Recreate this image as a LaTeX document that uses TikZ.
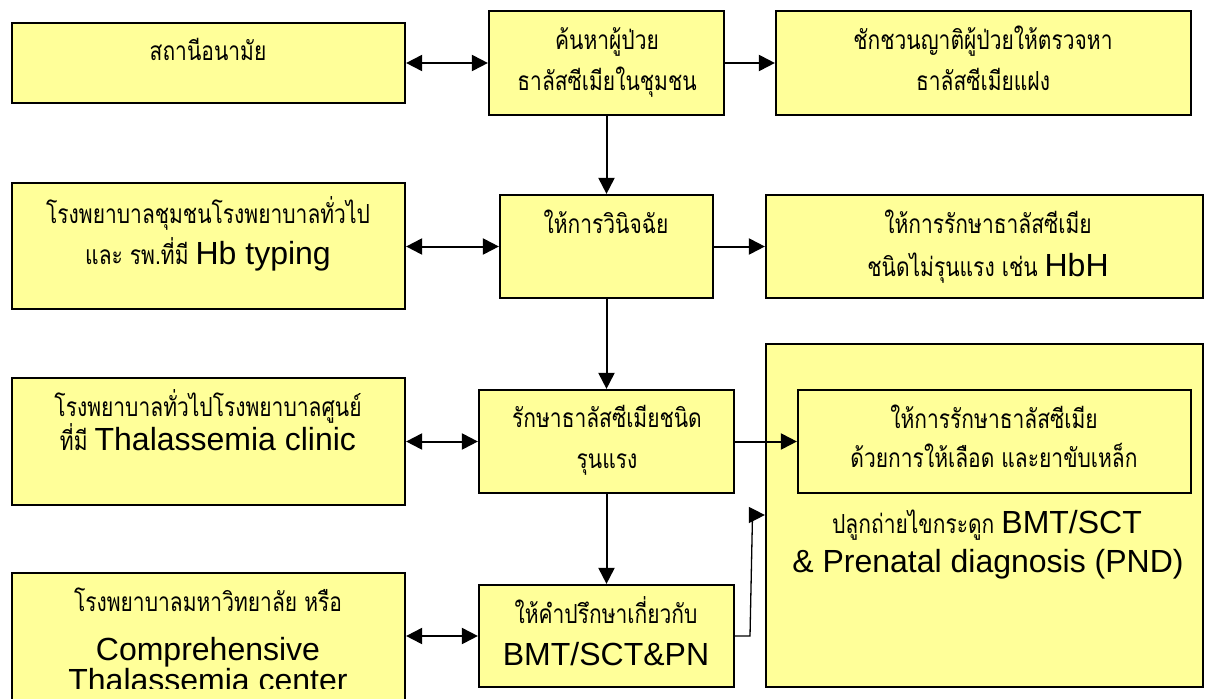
\documentclass[tikz,border=0pt]{standalone}
\usepackage{fontspec}
\usepackage{graphicx}
\setmainfont{Liberation Sans}
\newfontfamily\thaif[Script=Thai]{Loma}
\usetikzlibrary{arrows.meta}
\newcommand\thai[1]{{\thaif\fontsize{21}{26}\selectfont\scalebox{1}[1.25]{#1}}}
\newcommand\engtxt{\rmfamily\fontsize{32}{36}\selectfont}
\newcommand\gap{\hspace{7pt}}
\definecolor{boxyellow}{HTML}{FFFF99}
\tikzset{
  box/.style={draw=black, fill=boxyellow, line width=2.2pt, rectangle, inner sep=0pt},
  txt/.style={anchor=base, inner sep=0pt, align=center},
  arr/.style={-{Triangle[length=16pt,width=16pt]}, line width=2pt},
  darr/.style={{Triangle[length=16pt,width=16pt]}-{Triangle[length=16pt,width=16pt]}, line width=2pt},
  thinarr/.style={-{Triangle[length=16pt,width=16pt]}, line width=1.3pt}
}
\begin{document}
\begin{tikzpicture}[x=1pt,y=-1pt]
\useasboundingbox (0,0) rectangle (1206,698);
\clip (0,0) rectangle (1206,698);
\fill[white] (0,0) rectangle (1206,698);
% boxes
\node[box, minimum width=393pt, minimum height=80pt]  (A) at (208.5,63) {};
\node[box, minimum width=235pt, minimum height=104pt] (B) at (606.5,63) {};
\node[box, minimum width=415pt, minimum height=104pt] (C) at (983.5,63) {};
\node[box, minimum width=393pt, minimum height=126pt] (D) at (208.5,246) {};
\node[box, minimum width=213pt, minimum height=103pt] (E) at (606.5,246.5) {};
\node[box, minimum width=437pt, minimum height=103pt] (F) at (984.5,246.5) {};
\node[box, minimum width=437pt, minimum height=343pt] (G) at (984.5,515.5) {};
\node[box, minimum width=393pt, minimum height=103pt] (H) at (994.5,441.5) {};
\node[box, minimum width=393pt, minimum height=127pt] (I) at (208.5,441.5) {};
\node[box, minimum width=255pt, minimum height=103pt] (J) at (606.5,441.5) {};
\node[box, minimum width=255pt, minimum height=102pt] (K) at (606.5,636) {};
\node[box, minimum width=393pt, minimum height=154pt] (L) at (208.5,650) {};
% texts
\node[txt] (tA) at (208,61) {\thai{สถานีอนามัย}};
\node[txt] (tB1) at (607,50) {\thai{ค้นหาผู้ป่วย}};
\node[txt] (tB2) at (607,91) {\thai{ธาลัสซีเมียในชุมชน}};
\node[txt] (tC1) at (983,50) {\thai{ชักชวนญาติผู้ป่วยให้ตรวจหา}};
\node[txt] (tC2) at (983,91) {\thai{ธาลัสซีเมียแฝง}};
\node[txt] (tD1) at (208,223) {\thai{โรงพยาบาลชุมชนโรงพยาบาลทั่วไป}};
\node[txt] (tD2) at (208,264) {\thai{และ รพ.ที่มี}\gap\engtxt Hb typing};
\node[txt] (tE) at (606,233) {\thai{ให้การวินิจฉัย}};
\node[txt] (tF1) at (988,233) {\thai{ให้การรักษาธาลัสซีเมีย}};
\node[txt] (tF2) at (988,276) {\thai{ชนิดไม่รุนแรง เช่น}\gap\engtxt HbH};
\node[txt] (tI1) at (208,416) {\thai{โรงพยาบาลทั่วไปโรงพยาบาลศูนย์}};
\node[txt] (tI2) at (208,450) {\thai{ที่มี}\gap\engtxt Thalassemia clinic};
\node[txt] (tJ1) at (607,427) {\thai{รักษาธาลัสซีเมียชนิด}};
\node[txt] (tJ2) at (607,468) {\thai{รุนแรง}};
\node[txt] (tH1) at (994,428) {\thai{ให้การรักษาธาลัสซีเมีย}};
\node[txt] (tH2) at (994,467) {\thai{ด้วยการให้เลือด และยาขับเหล็ก}};
\node[txt] (tG1) at (987,533) {\thai{ปลูกถ่ายไขกระดูก}\gap\engtxt BMT/SCT};
\node[txt] (tG2) at (988,572) {\engtxt \& Prenatal diagnosis (PND)};
\node[txt] (tK1) at (606,623) {\thai{ให้คำปรึกษาเกี่ยวกับ}};
\node[txt] (tK2) at (606,665) {\engtxt BMT/SCT\&PN};
\node[txt] (tL1) at (208,611) {\thai{โรงพยาบาลมหาวิทยาลัย หรือ}};
\node[txt] (tL2) at (208,660) {\engtxt Comprehensive};
\begin{scope}
\clip (0,600) rectangle (1206,688);
\node[txt] (tL3) at (208,691) {\engtxt Thalassemia center};
\end{scope}
% connectors
\draw[darr] (A.east) -- (B.west);
\draw[arr] (B.east) -- (C.west);
\draw[arr] (B.south) -- (E.north);
\draw[darr] (D.east |- E.west) -- (E.west);
\draw[arr] (E.east) -- (F.west);
\draw[arr] (E.south) -- (J.north);
\draw[darr] (I.east) -- (J.west);
\draw[arr] (J.east) -- (H.west);
\draw[arr] (J.south) -- (K.north);
\draw[darr] (L.east |- K.west) -- (K.west);
\coordinate (kg1) at (750,636);
\coordinate (kg2) at (752.5,515);
\draw[thinarr] (K.east) -- (kg1) -- (kg2) -- (kg2 -| G.west);
\end{tikzpicture}
\end{document}
